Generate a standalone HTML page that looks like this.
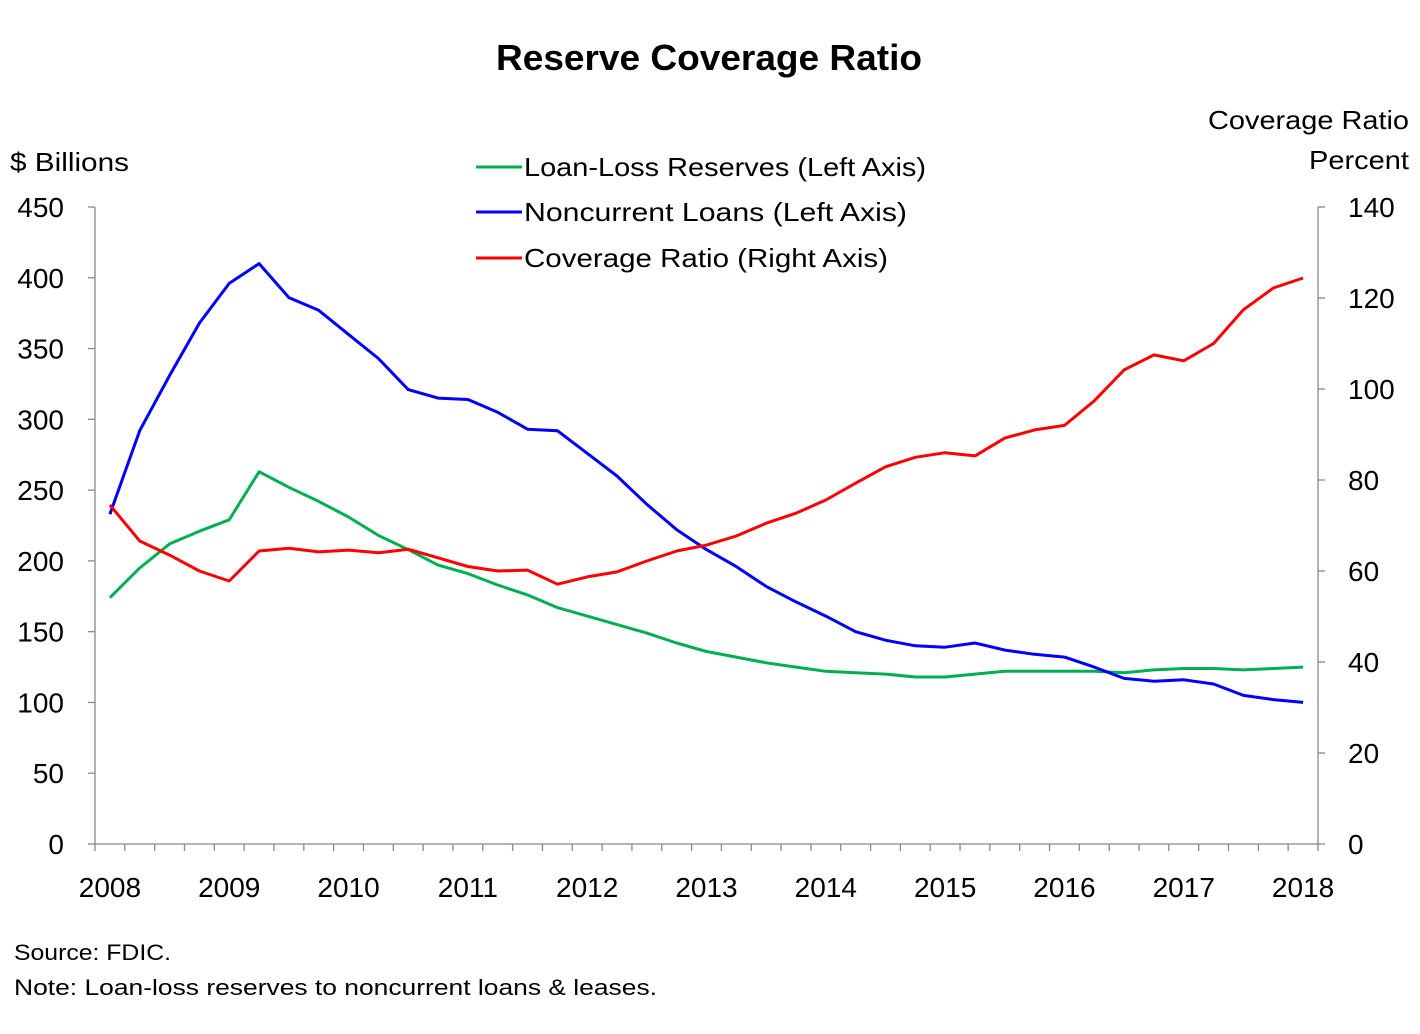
<!DOCTYPE html>
<html><head><meta charset="utf-8"><style>
body{margin:0;background:#fff;}
svg text{font-family:"Liberation Sans",sans-serif;fill:#000;}
</style></head><body>
<svg id="c" width="1420" height="1029" xmlns="http://www.w3.org/2000/svg">
<text x="496" y="70" font-size="36" font-weight="bold" textLength="426" lengthAdjust="spacingAndGlyphs">Reserve Coverage Ratio</text>
<text x="10" y="171" font-size="26" textLength="119" lengthAdjust="spacingAndGlyphs">$ Billions</text>
<text x="1208" y="129" font-size="26" textLength="201" lengthAdjust="spacingAndGlyphs">Coverage Ratio</text>
<text x="1309" y="169" font-size="26" textLength="100" lengthAdjust="spacingAndGlyphs">Percent</text>
<line x1="476" y1="167" x2="522" y2="167" stroke="#00b050" stroke-width="3"/>
<text x="524" y="176" font-size="26" textLength="402" lengthAdjust="spacingAndGlyphs">Loan-Loss Reserves (Left Axis)</text>
<line x1="476" y1="212" x2="522" y2="212" stroke="#0000ff" stroke-width="3"/>
<text x="524" y="221" font-size="26" textLength="383" lengthAdjust="spacingAndGlyphs">Noncurrent Loans (Left Axis)</text>
<line x1="476" y1="258" x2="522" y2="258" stroke="#ff0000" stroke-width="3"/>
<text x="524" y="267" font-size="26" textLength="364" lengthAdjust="spacingAndGlyphs">Coverage Ratio (Right Axis)</text>
<text x="14" y="960" font-size="22" textLength="157" lengthAdjust="spacingAndGlyphs">Source: FDIC.</text>
<text x="14" y="995" font-size="22" textLength="643" lengthAdjust="spacingAndGlyphs">Note: Loan-loss reserves to noncurrent loans &amp; leases.</text>
<g id="ax" stroke="#888" stroke-width="1.3"></g>
<g id="lbl" font-size="28"></g>
<g id="ser" fill="none" stroke-width="3" stroke-linejoin="round"></g>
</svg>
<script>
const ax=document.getElementById('ax'),lbl=document.getElementById('lbl'),ser=document.getElementById('ser');
const NS='http://www.w3.org/2000/svg';
function el(p,t,a,txt){const e=document.createElementNS(NS,t);for(const k in a)e.setAttribute(k,a[k]);if(txt!==undefined)e.textContent=txt;p.appendChild(e);return e;}
const x0=95,x1=1318,y0=844,yT=207;
el(ax,'line',{x1:x0,y1:yT,x2:x0,y2:y0});
el(ax,'line',{x1:x1,y1:yT,x2:x1,y2:y0});
el(ax,'line',{x1:x0,y1:y0,x2:x1,y2:y0});
for(let i=0;i<=9;i++){const y=y0-(y0-yT)*i/9;el(ax,'line',{x1:x0-7,y1:y,x2:x0,y2:y});el(lbl,'text',{x:64,y:y+10,'text-anchor':'end'},String(i*50));}
for(let i=0;i<=7;i++){const y=y0-(y0-yT)*i/7;el(ax,'line',{x1:x1,y1:y,x2:x1+7,y2:y});el(lbl,'text',{x:1348,y:y+10},String(i*20));}
const w=(x1-x0)/41;
for(let i=0;i<=41;i++){const x=x0+w*i;el(ax,'line',{x1:x,y1:y0,x2:x,y2:y0+7});}
for(let k=0;k<=10;k++){const x=x0+w*(4*k+0.5);el(lbl,'text',{x:x,y:897,'text-anchor':'middle'},String(2008+k));}
const g=[174,195,212,221,229,263,252,242,231,218,208,197,191,183,176,167,161,155,149,142,136,132,128,125,122,121,120,118,118,120,122,122,122,122,121,123,124,124,123,124,125];
const b=[233,292,331,368,396,410,386,377,360,343,321,315,314,305,293,292,276,260,240,222,208,196,182,171,161,150,144,140,139,142,137,134,132,125,117,115,116,113,105,102,100];
const r=[74.5,66.6,63.5,60,57.8,64.4,65,64.2,64.6,64,64.8,62.9,61,60,60.2,57.1,58.7,59.8,62.2,64.4,65.7,67.7,70.5,72.7,75.6,79.3,82.9,85,86,85.3,89.2,91,92,97.4,104.2,107.5,106.2,110,117.4,122.2,124.4];
function line(d,max,col){const pts=d.map((v,i)=>(x0+w*(i+0.5)).toFixed(1)+','+(y0-(y0-yT)*v/max).toFixed(1)).join(' ');el(ser,'polyline',{points:pts,stroke:col});}
line(g,450,'#00b050');line(b,450,'#0000ff');line(r,140,'#ff0000');
</script>
</body></html>
